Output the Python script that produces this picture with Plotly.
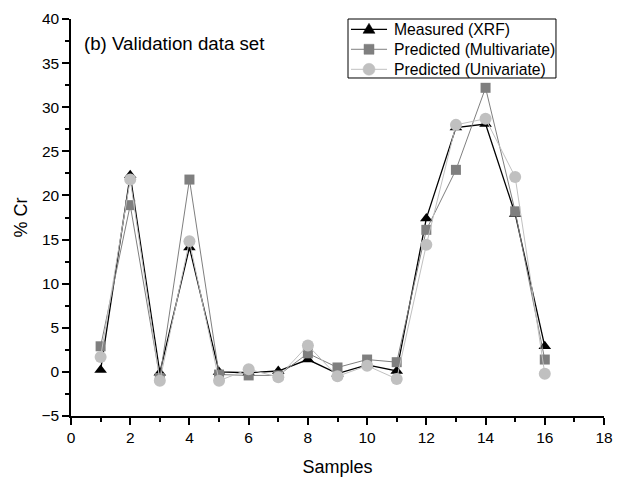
import plotly.graph_objects as go

samples = list(range(1, 17))
measured_xrf = [0.2, 22.3, -0.1, 14.1, 0.0, -0.1, 0.1, 1.4, -0.2, 0.8, 0.1, 17.4, 27.7, 28.1, 17.9, 2.9]
pred_multivariate = [2.9, 18.9, -0.7, 21.8, -0.3, -0.4, -0.4, 2.1, 0.5, 1.4, 1.1, 16.1, 22.9, 32.2, 18.2, 1.4]
pred_univariate = [1.7, 21.8, -1.0, 14.8, -1.0, 0.3, -0.6, 3.0, -0.5, 0.7, -0.8, 14.4, 28.0, 28.7, 22.1, -0.2]

series_names = ["Measured (XRF)", "Predicted (Multivariate)", "Predicted (Univariate)"]
series_values = [measured_xrf, pred_multivariate, pred_univariate]
colors = ["black", "#7f7f7f", "#c0c0c0"]
symbols = ["triangle-up", "square", "circle"]
marker_sizes = [11, 10, 12]
line_widths = [1.3, 1.0, 1.0]

font = "Arial, Liberation Sans, sans-serif"

fig = go.Figure()
for name, vals, color, symbol, size, lw in zip(series_names, series_values, colors,
                                                symbols, marker_sizes, line_widths):
    fig.add_trace(go.Scatter(
        x=samples, y=vals, name=name, mode="lines+markers",
        line=dict(color=color, width=lw),
        marker=dict(symbol=symbol, size=size, color=color, line=dict(width=0)),
    ))

axis_common = dict(
    showgrid=False, zeroline=False, showline=True, linecolor="black", linewidth=1.5,
    ticks="outside", ticklen=7, tickwidth=1.5, tickcolor="black",
    tickfont=dict(family=font, size=15.5, color="black"), mirror=False,
    automargin=False,
)
fig.update_xaxes(
    range=[0, 18], dtick=2, tick0=0,
    minor=dict(dtick=1, ticks="outside", ticklen=4, tickcolor="black", tickwidth=1.5),
    title=dict(text="Samples", font=dict(family=font, size=18, color="black"), standoff=16),
    **axis_common,
)
fig.update_yaxes(
    range=[-5, 40], dtick=5, tick0=0,
    minor=dict(dtick=2.5, ticks="outside", ticklen=4, tickcolor="black", tickwidth=1.5),
    title=dict(text="% Cr", font=dict(family=font, size=18, color="black"), standoff=9),
    **axis_common,
)

# panel label
fig.add_annotation(
    text="(b) Validation data set", xref="paper", yref="paper",
    x=0.020, y=0.9395, xanchor="left", yanchor="middle", showarrow=False,
    font=dict(family=font, size=18.7, color="black"),
)

# compact boxed legend drawn in paper space
box = dict(x0=0.5197, x1=0.9099, y0=0.8514, y1=1.0)
fig.add_shape(type="rect", xref="paper", yref="paper", **box,
              line=dict(color="black", width=1), fillcolor="white", layer="above")
row_y = [0.9741, 0.9237, 0.8733]
seg_x0, seg_x1, mark_x, text_x = 0.5253, 0.5929, 0.5591, 0.6023
for name, color, symbol, lw, yy in zip(series_names, colors, symbols, line_widths, row_y):
    fig.add_shape(type="line", xref="paper", yref="paper",
                  x0=seg_x0, x1=seg_x1, y0=yy, y1=yy,
                  line=dict(color=color, width=lw), layer="above")
    glyph = dict(xref="paper", yref="paper", xsizemode="pixel", ysizemode="pixel",
                 xanchor=mark_x, yanchor=yy, fillcolor=color,
                 line=dict(color=color, width=0.5), layer="above")
    if symbol == "square":
        fig.add_shape(type="rect", x0=-5, x1=5, y0=-5, y1=5, **glyph)
    elif symbol == "circle":
        fig.add_shape(type="circle", x0=-6, x1=6, y0=-6, y1=6, **glyph)
    else:
        fig.add_shape(type="path", path="M-6,-4 L6,-4 L0,6 Z", **glyph)
    fig.add_annotation(text=name, xref="paper", yref="paper", x=text_x, y=yy,
                       xanchor="left", yanchor="middle", showarrow=False,
                       font=dict(family=font, size=15.7, color="black"))

fig.update_layout(
    width=619, height=477,
    margin=dict(l=71, r=15, t=19, b=61),
    paper_bgcolor="white", plot_bgcolor="white",
    showlegend=False,
)

fig.write_html("out.html")
